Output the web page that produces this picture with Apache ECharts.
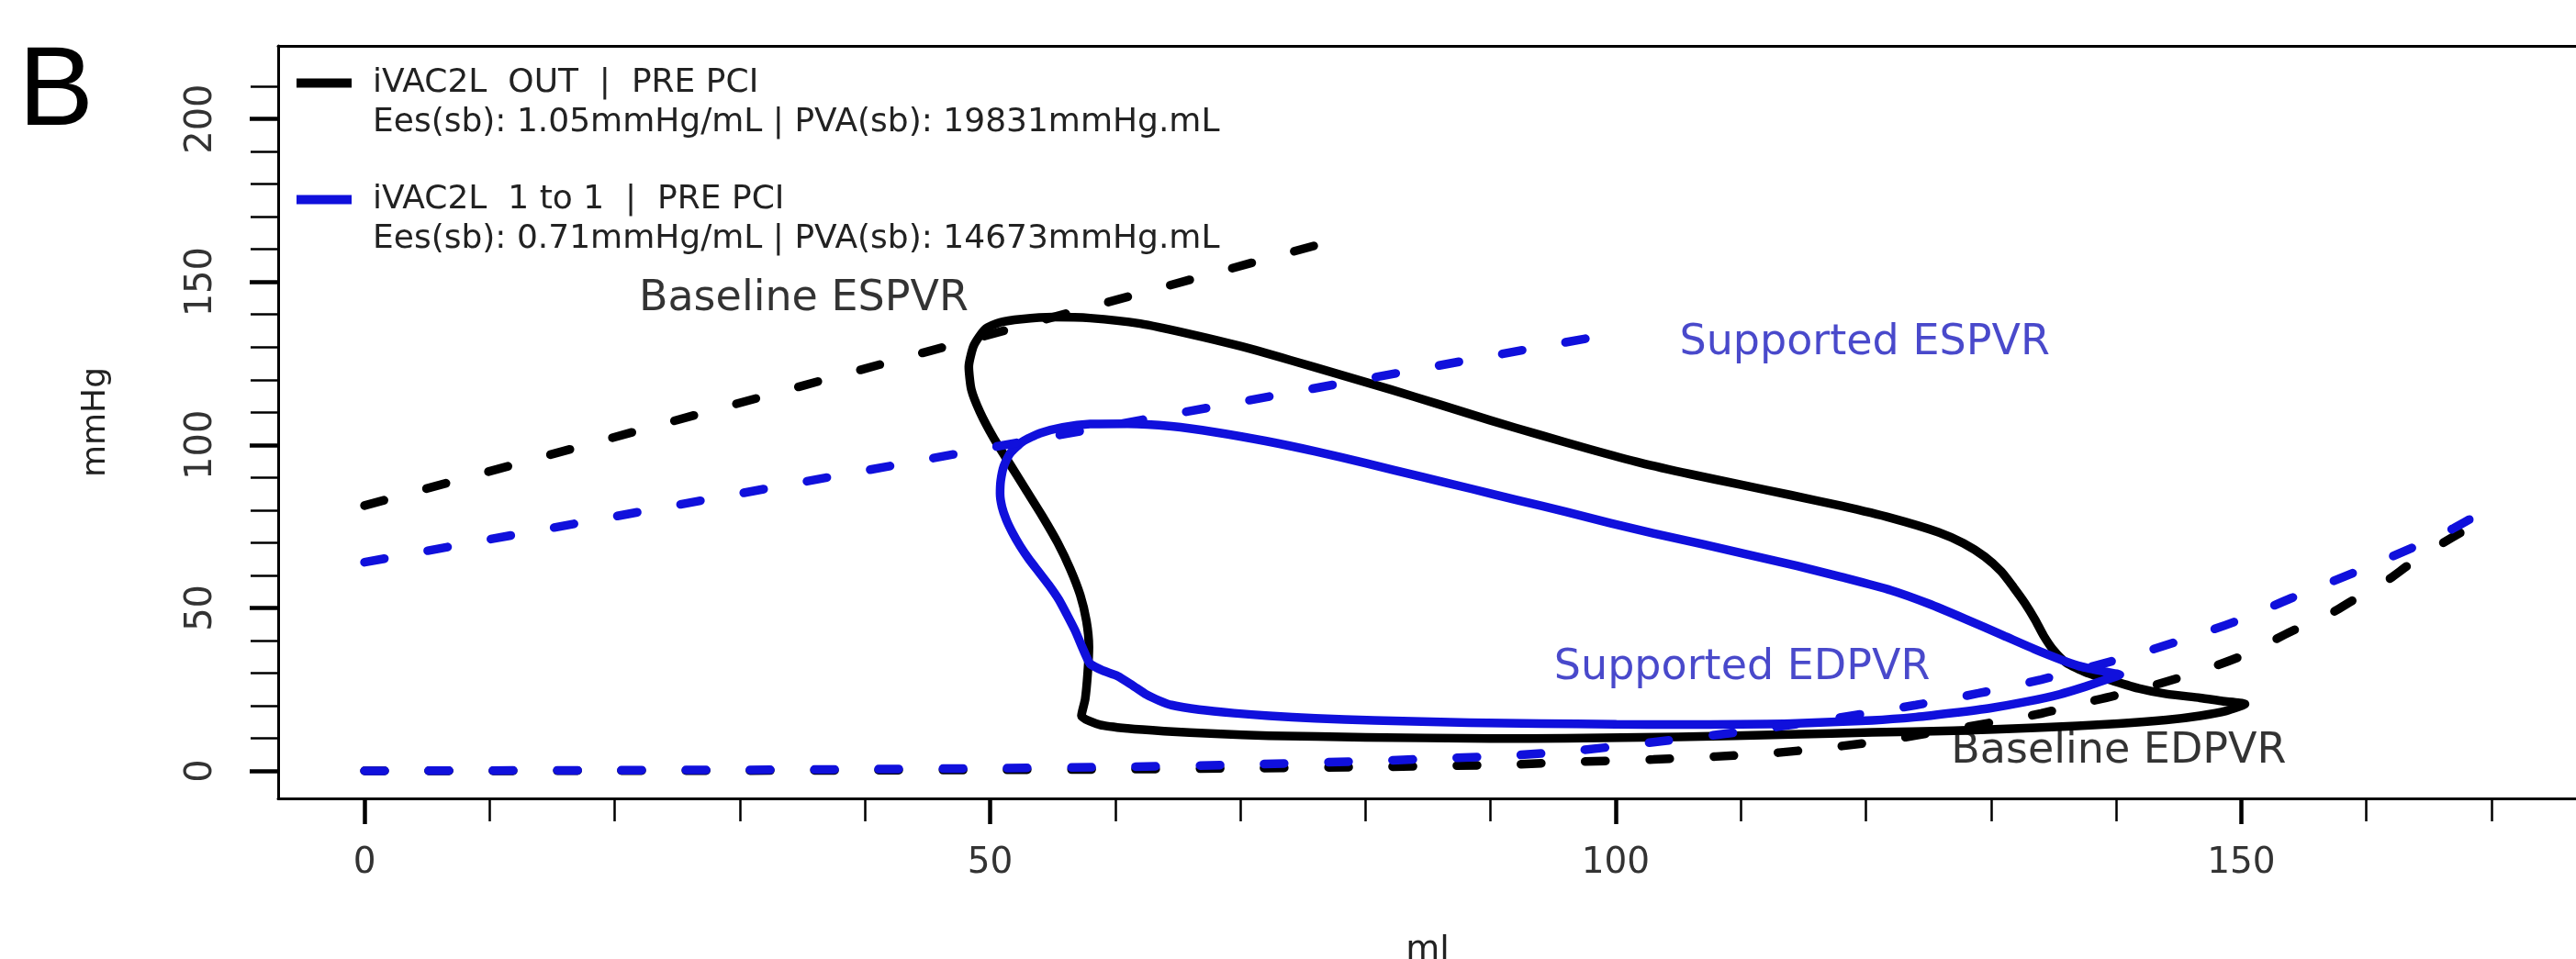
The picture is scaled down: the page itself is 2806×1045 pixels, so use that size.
<!DOCTYPE html>
<html>
<head>
<meta charset="utf-8">
<script src="https://cdn.jsdelivr.net/npm/echarts@6/dist/echarts.min.js"></script>
<style>
html,body{margin:0;padding:0;background:#ffffff;}
#chart{width:2806px;height:1045px;}
</style>
</head>
<body>
<div id="chart"></div>
<script>
// ---------- data ----------
const seriesNames = ['iVAC2L  OUT  |  PRE PCI', 'iVAC2L  1 to 1  |  PRE PCI'];
const seriesMetrics = ['Ees(sb): 1.05mmHg/mL | PVA(sb): 19831mmHg.mL', 'Ees(sb): 0.71mmHg/mL | PVA(sb): 14673mmHg.mL'];
const xAxisTitle = 'ml';
const yAxisTitle = 'mmHg';

const volumeTicks = [0,10,20,30,40,50,60,70,80,90,100,110,120,130,140,150,160,170];
const volumeLabels = [0,50,100,150];
const pressureTicks = [0,10,20,30,40,50,60,70,80,90,100,110,120,130,140,150,160,170,180,190,200,210];
const pressureLabels = [0,50,100,150,200];

// baseline (iVAC2L OUT) PV loop  [volume ml, pressure mmHg]
const baselineLoop = [
  [90,9.9],[96,10.0],[105,10.4],[114,11.2],[120.5,11.8],[127,12.3],[133.6,13.2],[140.2,14.5],[144,15.6],
  [146.7,16.9],[148.8,18.4],[150.3,20.5],[148.5,21.4],[146.7,22.4],[144,23.6],[141.8,25.3],[139.6,27.8],
  [137.6,30.2],[136,33.2],[135,37],[134.2,41.5],[133.5,46.5],[132.7,51.5],[131.8,56.3],[130.8,61.2],
  [129.5,65.7],[127.8,69.8],[125.8,73.2],[122,77.6],[118,81.3],[114,84.6],[110,87.8],[106,91],[102,94.5],
  [98,98.6],[94,103],[90,107.5],[86,112.3],[82,117],[78,121.5],[74,126],[70,130.3],[66,134],[62,137.2],
  [58,138.9],[55,139.2],[52.5,138.6],[50.8,137.6],[49.6,135.5],[48.7,130.5],[48.3,124],[48.5,117],
  [49.2,110],[50.3,102],[51.6,94],[52.9,86],[54.2,78],[55.4,70],[56.4,62],[57.2,54],[57.7,46],[57.9,38],
  [57.8,30],[57.6,22],[57.3,16.9],[58.8,14.1],[61,13.0],[63.9,12.2],[68,11.4],[72.3,10.8],[80,10.3],[90,9.9]
];

// supported (iVAC2L 1 to 1) PV loop
const supportedLoop = [
  [100,14.3],[105,14.2],[110,14.3],[114,14.5],[120.5,15.5],[124,16.5],[127,17.8],[130,19.3],[132.8,21.2],
  [135.5,23.5],[137.5,25.8],[139.2,28],[140.3,29.5],[139.3,30.3],[137,32.2],[134,36.5],[131,41.5],
  [128,46.5],[125,51.3],[122,55.4],[118,59.5],[114.5,62.9],[110.5,66.4],[107,69.5],[103,72.9],[99.6,76],
  [96,79.5],[92.1,83.1],[88.5,86.5],[84.6,90.1],[80,94.4],[76,98],[72,101.2],[68,103.9],[64.5,105.7],
  [61,106.5],[58,106.4],[55.8,105.4],[54,103.6],[52.6,101],[51.6,97.4],[51.1,93.5],[50.85,89],[50.8,85],
  [50.95,81],[51.3,77],[51.8,73],[52.4,69],[53.1,65],[53.9,61],[54.7,57],[55.5,52.5],[56.2,47.5],
  [56.8,43],[57.3,38.5],[57.7,35],[58,32.8],[59,30.8],[60.2,29.1],[61.4,26.2],[62.5,23.4],[63.5,21.6],
  [64.5,20.2],[66.7,18.8],[69.5,17.7],[72.3,16.9],[76,16.1],[80.7,15.5],[88.3,14.8],[94,14.5],[100,14.3]
];

const baselineESPVR = [[0,81.4],[78.3,163.6]];
const supportedESPVR = [[0,64],[100.3,134.5]];

const baselineEDPVR = [
  [0,0],[10,0],[20,0.1],[30,0.1],[40,0.2],[50,0.3],[60,0.5],[70,0.8],[80,1.2],[86,1.5],[92,2.0],[97,2.8],
  [103,3.5],[108,4.4],[113,5.6],[118,7.6],[122,9.6],[126,12.2],[130,14.8],[134,17.6],[137,20.5],[140,23.2],
  [145,28.5],[150,35.2],[154,42.8],[157,48],[159,52.5],[161.5,58],[163.5,63.5],[165.5,68.5],[167.5,73]
];
const supportedEDPVR = [
  [0,0],[10,0.1],[20,0.2],[30,0.3],[40,0.5],[50,0.8],[60,1.2],[70,1.9],[80,3.0],[86,3.8],[92,4.8],[97,6.3],
  [103,8.8],[110,12],[117,15.8],[124,20.2],[129,23.8],[134,28],[140,34],[145,39.8],[150,46.5],[154,53],
  [159,60.8],[164,69],[167,74.5],[169.3,79.5]
];

const annotationTexts = ['Baseline ESPVR', 'Supported ESPVR', 'Supported EDPVR', 'Baseline EDPVR'];
const annotationVolumes = [35.1, 119.9, 110.1, 140.2];
const annotationPressures = [144.6, 131.3, 31.5, 6.0];

// ---------- styles ----------
const FONT = 'DejaVu Sans';
const BLACK = '#000000';
const BLUE = '#1010dc';
const BLUE_TEXT = '#1c1cbe';
const X_MIN = -6.9, X_MAX = 178;
const Y_MIN = -8.446, Y_MAX = 222.41;

const chart = echarts.init(document.getElementById('chart'), null, {renderer: 'canvas'});

function loopSeries(name, data, color) {
  return {
    type: 'line', name: name, data: data, xAxisIndex: 0, yAxisIndex: 0,
    symbol: 'none', showSymbol: false, smooth: 0.2, silent: true,
    itemStyle: {color: color},
    lineStyle: {color: color, width: 9.5, cap: 'round', join: 'round'}
  };
}
function dashSeries(name, data, color, smooth) {
  return {
    type: 'line', name: name, data: data, xAxisIndex: 0, yAxisIndex: 0,
    symbol: 'none', showSymbol: false, smooth: smooth, silent: true,
    itemStyle: {color: color},
    lineStyle: {color: color, width: 9.5, type: [22, 48], cap: 'round'}
  };
}

const option = {
  animation: false,
  backgroundColor: '#ffffff',
  textStyle: {fontFamily: FONT},
  title: {
    text: 'B', left: 20, top: 41, padding: 0,
    textStyle: {fontSize: 123, fontWeight: 'normal', color: '#000', fontFamily: 'Liberation Sans Narrow, Liberation Sans, sans-serif'}
  },
  grid: {left: 303, top: 50, width: 2520, height: 820, outerBoundsMode: 'none', containLabel: false},
  legend: {
    orient: 'vertical', left: 323, top: 29.5, padding: 0, itemGap: 5,
    itemWidth: 60, itemHeight: 10, selectedMode: false,
    data: seriesNames.map(n => ({name: n, icon: 'rect'})),
    formatter: function (name) {
      const i = seriesNames.indexOf(name);
      return '{e| }\n{a|' + name + '}\n{b|' + seriesMetrics[i] + '}';
    },
    textStyle: {
      padding: [0, 0, 0, 18],
      rich: {
        e: {fontSize: 36, lineHeight: 43, fontFamily: FONT},
        a: {fontSize: 36, lineHeight: 43, color: '#222', fontFamily: FONT},
        b: {fontSize: 36, lineHeight: 43, color: '#222', fontFamily: FONT}
      }
    }
  },
  xAxis: [
    {
      type: 'value', min: X_MIN, max: X_MAX, position: 'bottom', gridIndex: 0,
      splitLine: {show: false},
      axisLine: {show: true, onZero: false, lineStyle: {color: BLACK, width: 3}},
      axisTick: {show: true, customValues: volumeTicks, length: 25, lineStyle: {color: BLACK, width: 2.5}},
      axisLabel: {show: true, customValues: volumeLabels, fontSize: 39, margin: 51, color: '#333', fontFamily: FONT},
      name: xAxisTitle, nameLocation: 'middle', nameGap: 147,
      nameTextStyle: {fontSize: 38, color: '#222', fontFamily: FONT, padding: [0, 16, 0, 0]}
    },
    {
      type: 'value', min: X_MIN, max: X_MAX, position: 'bottom', gridIndex: 0,
      splitLine: {show: false},
      axisLine: {show: false, onZero: false},
      axisTick: {show: true, customValues: volumeLabels, length: 28, lineStyle: {color: BLACK, width: 4.5}},
      axisLabel: {show: false}
    },
    {
      type: 'value', min: X_MIN, max: X_MAX, position: 'top', gridIndex: 0,
      splitLine: {show: false},
      axisLine: {show: true, onZero: false, lineStyle: {color: BLACK, width: 3}},
      axisTick: {show: false}, axisLabel: {show: false}
    }
  ],
  yAxis: [
    {
      type: 'value', min: Y_MIN, max: Y_MAX, position: 'left', gridIndex: 0,
      splitLine: {show: false},
      axisLine: {show: true, onZero: false, lineStyle: {color: BLACK, width: 3}},
      axisTick: {show: true, customValues: pressureTicks, length: 30, lineStyle: {color: BLACK, width: 2.5}},
      axisLabel: {show: true, customValues: pressureLabels, rotate: 90, fontSize: 40, margin: 63, color: '#333', fontFamily: FONT}
    },
    {
      type: 'value', min: Y_MIN, max: Y_MAX, position: 'left', gridIndex: 0,
      splitLine: {show: false},
      axisLine: {show: false, onZero: false},
      axisTick: {show: true, customValues: pressureLabels, length: 31, lineStyle: {color: BLACK, width: 4.5}},
      axisLabel: {show: false}
    }
  ],
  series: [
    loopSeries(seriesNames[0], baselineLoop, BLACK),
    loopSeries(seriesNames[1], supportedLoop, BLUE),
    dashSeries('Baseline ESPVR line', baselineESPVR, BLACK, false),
    dashSeries('Supported ESPVR line', supportedESPVR, BLUE, false),
    dashSeries('Baseline EDPVR line', baselineEDPVR, BLACK, 0.3),
    dashSeries('Supported EDPVR line', supportedEDPVR, BLUE, 0.3),
    {
      type: 'scatter', name: 'annotations', xAxisIndex: 0, yAxisIndex: 0, silent: true, z: 5,
      symbol: 'circle', symbolSize: 1, itemStyle: {color: 'rgba(0,0,0,0)'},
      data: annotationTexts.map((t, i) => ({
        name: t, value: [annotationVolumes[i], annotationPressures[i]],
        label: {color: t.indexOf('Supported') === 0 ? BLUE_TEXT : '#000'}
      })),
      label: {show: true, position: 'inside', formatter: p => p.name, fontSize: 46, fontFamily: FONT}
    }
  ]
};
chart.setOption(option);

// y-axis title, placed beside the axis at the middle of the plotting area
const mid = chart.convertToPixel({gridIndex: 0}, [X_MIN, (Y_MIN + Y_MAX) / 2]);
chart.setOption({
  graphic: [{
    type: 'text', x: mid[0] - 198, y: mid[1], rotation: Math.PI / 2, silent: true,
    style: {text: yAxisTitle, fontSize: 36, fontFamily: FONT, fill: '#222', align: 'center', verticalAlign: 'middle'}
  }]
});
</script>
</body>
</html>
